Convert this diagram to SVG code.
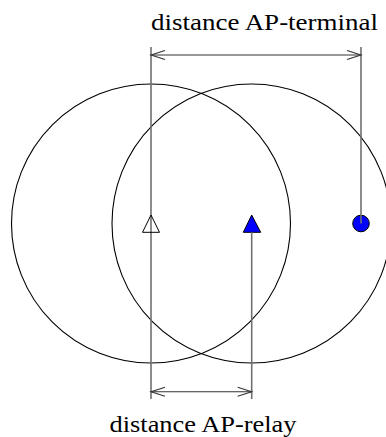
<svg xmlns="http://www.w3.org/2000/svg" width="386" height="437" viewBox="0 0 386 437">
<style>
.circ{fill:none;stroke:#000;stroke-width:1.1}
.dim{fill:none;stroke:#707070;stroke-width:1.6}
.arr{fill:none;stroke:#333;stroke-width:1.1}
.lbl{font-family:"Liberation Serif","Times New Roman",serif;font-size:24px;fill:#000}
</style>
<rect width="386" height="437" fill="#fff"/>
<g id="coverage-ap"><circle class="circ" cx="151" cy="223.5" r="139.5"/></g>
<g id="coverage-relay"><circle class="circ" cx="251.5" cy="223.5" r="139.5"/></g>
<g id="terminal"><circle cx="361" cy="223.5" r="8.3" fill="#0000ff" stroke="#000" stroke-width="1"/></g>
<g id="relay"><polygon points="251.7,215 243.3,232.3 260.7,232.3" fill="#0000ff" stroke="#000" stroke-width="1"/></g>
<g id="connectors">
<line class="dim" x1="151" y1="47" x2="151" y2="399"/>
<line class="dim" x1="361" y1="47" x2="361" y2="223.5"/>
<line class="dim" x1="251.7" y1="232.3" x2="251.7" y2="399"/>
<line class="arr" x1="151" y1="55" x2="361" y2="55"/>
<polyline class="arr" points="165,50.5 151,55 165,59.5"/>
<polyline class="arr" points="347,50.5 361,55 347,59.5"/>
<line class="arr" x1="151" y1="391.7" x2="251.7" y2="391.7"/>
<polyline class="arr" points="165,387.2 151,391.7 165,396.2"/>
<polyline class="arr" points="237.7,387.2 251.7,391.7 237.7,396.2"/>
</g>
<g id="ap"><polygon points="151,215 142.5,232.3 159.5,232.3" fill="none" stroke="#000" stroke-width="1"/></g>
<g id="label-terminal"><text class="lbl" x="151" y="30" textLength="227" lengthAdjust="spacingAndGlyphs">distance AP-terminal</text></g>
<g id="label-relay"><text class="lbl" x="109.5" y="432" textLength="187" lengthAdjust="spacingAndGlyphs">distance AP-relay</text></g>
</svg>
